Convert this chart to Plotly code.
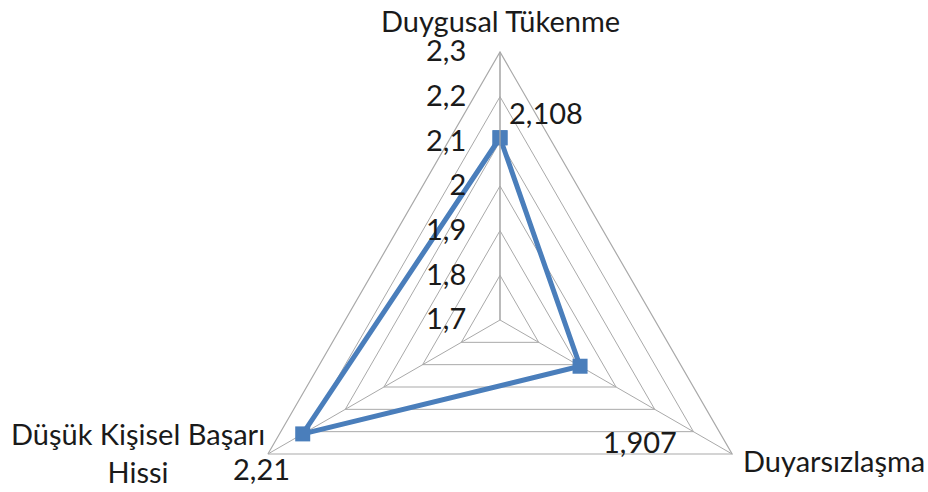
import plotly.graph_objects as go

# Burnout sub-scale means
categories = ["Duygusal Tükenme", "Duyarsızlaşma", "Düşük Kişisel Başarı Hissi"]
values = [2.108, 1.907, 2.21]
radial_range = [1.7, 2.3]
radial_step = 0.1

W, H = 928, 588
FONT = "Lato"
FS = 29
TXT = "#1a1a1a"
GRID = "#a9a9a9"
BLUE = "#4a7ebb"


def px(x):
    return x / W


def py(y):
    return 1 - y / H


def fmt(v):
    return format(v, "g").replace(".", ",")


fig = go.Figure()
fig.add_trace(go.Scatterpolar(
    r=values + values[:1],
    theta=categories + categories[:1],
    mode="lines+markers",
    line=dict(color=BLUE, width=5),
    marker=dict(symbol="square", size=15, color=BLUE),
    cliponaxis=False,
    showlegend=False,
))

fig.update_layout(
    width=W, height=H,
    margin=dict(l=0, r=0, t=0, b=0),
    paper_bgcolor="white",
    separators=", ",
    font=dict(family=FONT, size=FS, color=TXT),
    polar=dict(
        domain=dict(x=[232 / W, 768 / W], y=[0, 536 / H]),
        bgcolor="white",
        gridshape="linear",
        radialaxis=dict(
            range=radial_range,
            dtick=radial_step,
            angle=90,
            side="counterclockwise",
            tickangle=90,
            ticks="outside",
            ticklen=23,
            tickcolor="rgba(0,0,0,0)",
            showline=True,
            linecolor=GRID,
            linewidth=1.2,
            gridcolor=GRID,
            gridwidth=1.2,
            tickfont=dict(family=FONT, size=FS, color=TXT),
        ),
        angularaxis=dict(
            rotation=90,
            direction="clockwise",
            showticklabels=False,
            ticks="",
            showline=True,
            linecolor=GRID,
            linewidth=1.2,
            gridcolor=GRID,
            gridwidth=1.2,
        ),
    ),
)

annot = dict(xref="paper", yref="paper", showarrow=False,
             font=dict(family=FONT, size=FS, color=TXT))

# category labels
fig.add_annotation(text=categories[0], x=px(501), y=py(20),
                   xanchor="center", yanchor="middle", **annot)
fig.add_annotation(text=categories[1], x=px(741), y=py(460),
                   xanchor="left", yanchor="middle", **annot)
fig.add_annotation(text="Düşük Kişisel Başarı<br>Hissi", x=px(138), y=py(452),
                   xanchor="center", yanchor="middle", align="center", **annot)

# value labels
fig.add_annotation(text=fmt(values[0]), x=px(507), y=py(112),
                   xanchor="left", yanchor="middle", **annot)
fig.add_annotation(text=fmt(values[1]), x=px(601), y=py(442),
                   xanchor="left", yanchor="middle", **annot)
fig.add_annotation(text=fmt(values[2]), x=px(231), y=py(468),
                   xanchor="left", yanchor="middle", **annot)

fig.write_html(
    "out.html",
    post_script="document.documentElement.style.overflow='hidden';"
                "document.body.style.overflow='hidden';",
)
